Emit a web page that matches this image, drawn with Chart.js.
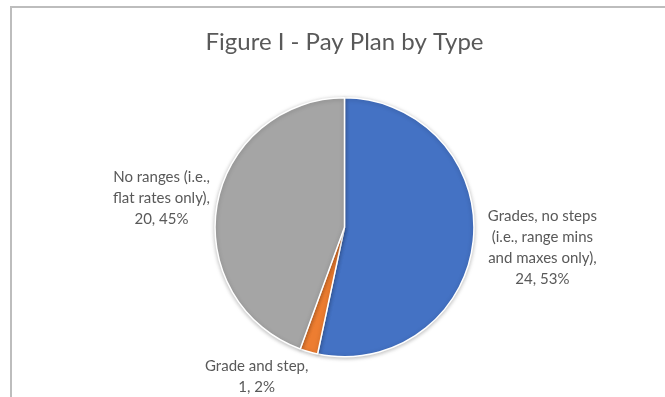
<!DOCTYPE html>
<html>
<head>
<meta charset="utf-8">
<script src="https://cdn.jsdelivr.net/npm/chart.js@4"></script>
<style>
  html, body { margin: 0; padding: 0; background: #fff; }
  #wrap { position: relative; width: 665px; height: 397px; overflow: hidden; }
  #frame { position: absolute; left: 10px; top: 6px; width: 720px; height: 450px;
           border: 2px solid #bdbdbd; box-sizing: border-box; }
  canvas { position: absolute; left: 0; top: 0; }
</style>
</head>
<body>
<div id="wrap">
  <div id="frame"></div>
  <canvas id="chart" width="665" height="397"></canvas>
</div>
<script>
const categories = [
    ['Grades, no steps', '(i.e., range mins', 'and maxes only),'],
    ['Grade and step,'],
    ['No ranges (i.e.,', 'flat rates only),']
];
const counts = [24, 1, 20];
const percents = ['53%', '2%', '45%'];
const colors = ['#4472c4', '#ed7d31', '#a5a5a5'];

// nudges for Excel's "best fit" label placement
const labelNudge = [[1, 1], [-34, -9], [6, 1]];

const outsideLabels = {
    id: 'outsideLabels',
    afterDatasetsDraw(chart) {
        const ctx = chart.ctx;
        const meta = chart.getDatasetMeta(0);
        ctx.save();
        ctx.font = '15px Lato';
        ctx.fillStyle = '#595959';
        ctx.textAlign = 'center';
        ctx.textBaseline = 'middle';
        const lh = 21;
        meta.data.forEach((arc, i) => {
            const lines = categories[i].concat([counts[i] + ', ' + percents[i]]);
            const w = Math.max(...lines.map(l => ctx.measureText(l).width));
            const h = lines.length * lh;
            const mid = (arc.startAngle + arc.endAngle) / 2;
            const r = arc.outerRadius + 14;
            const c = Math.cos(mid), s = Math.sin(mid);
            const cx = arc.x + r * c + (w / 2) * c + labelNudge[i][0];
            const cy = arc.y + r * s + (h / 2) * s + labelNudge[i][1];
            lines.forEach((l, k) => {
                ctx.fillText(l, cx, cy - h / 2 + lh / 2 + k * lh);
            });
        });
        ctx.restore();
    }
};

const pieShadow = {
    id: 'pieShadow',
    beforeDatasetsDraw(chart) {
        const ctx = chart.ctx;
        ctx.save();
        ctx.shadowColor = 'rgba(0,0,0,0.25)';
        ctx.shadowBlur = 4;
        ctx.shadowOffsetY = 1;
    },
    afterDatasetsDraw(chart) {
        chart.ctx.restore();
    }
};

new Chart(document.getElementById('chart'), {
    type: 'pie',
    data: {
        labels: categories.map(c => c.join(' ')),
        datasets: [{
            data: counts,
            backgroundColor: colors,
            borderColor: '#ffffff',
            borderWidth: 1.5
        }]
    },
    options: {
        responsive: false,
        animation: false,
        layout: { padding: { top: 0, bottom: 39.5, left: 100, right: 76 } },
        plugins: {
            legend: { display: false },
            tooltip: { enabled: false },
            title: {
                display: true,
                text: 'Figure I - Pay Plan by Type',
                color: '#595959',
                font: { family: 'Lato', size: 24, weight: 'normal', lineHeight: 1.2 },
                padding: { top: 28.1, bottom: 40.2 }
            }
        }
    },
    plugins: [pieShadow, outsideLabels]
});
</script>
</body>
</html>
